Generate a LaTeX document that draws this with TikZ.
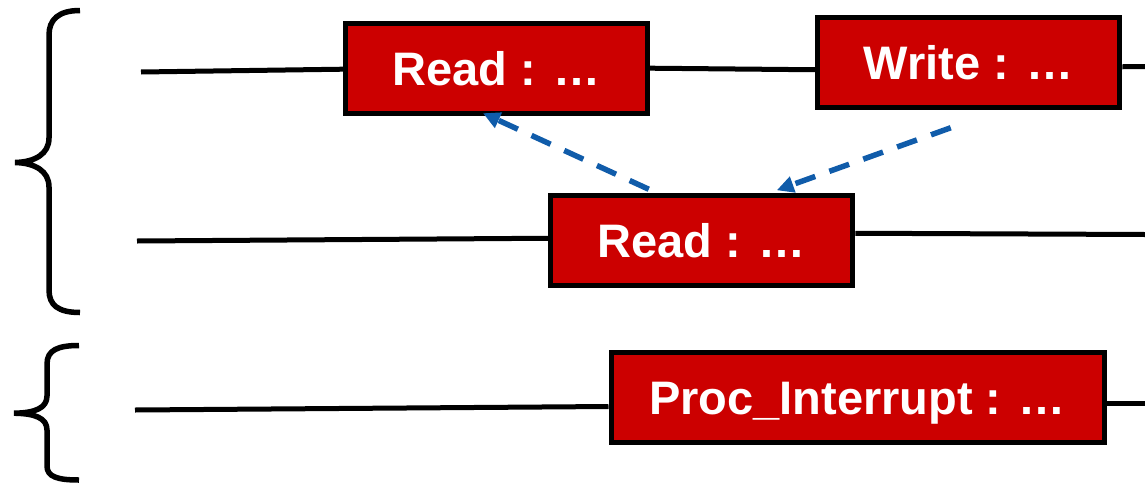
\documentclass[tikz,border=0pt]{standalone}
\usepackage{fontspec}
\setmainfont{Liberation Sans}
\usetikzlibrary{arrows.meta}
\definecolor{boxred}{RGB}{204,0,0}
\definecolor{linkblue}{RGB}{16,92,170}
\begin{document}
\begin{tikzpicture}[x=1pt,y=-1pt,
  task/.style={draw=black, line width=5pt, fill=boxred, text=white,
    font=\fontsize{47}{50}\selectfont\bfseries,
    minimum width=302pt, minimum height=90pt, inner sep=0pt,
    text height=33.7pt, text depth=0pt},
  thread/.style={draw=black, line width=5pt},
  bracket/.style={draw=black, line width=5.5pt},
  dep/.style={draw=linkblue, line width=5.5pt, dash pattern=on 21pt off 15pt,
    -{Triangle[length=17pt,width=16pt]}}]
\useasboundingbox (0,0) rectangle (1145,482);

% free ends of the three timelines
\coordinate (a0) at (141,72);
\coordinate (a1) at (1145,66.7);
\coordinate (b0) at (137,241);
\coordinate (b1) at (1145,234.5);
\coordinate (c0) at (135,410);
\coordinate (c1) at (1145,403.5);

% task boxes
\node[task] (rd1) at (496.5,68.2) {Read : …};
\node[task] (wr) at (968.75,62.75) {Write : …};
\node[task] (rd2) at (701.75,240.75) {Read : …};
\node[task, minimum width=493pt] (irq) at (857.5,397.5) {Proc\_Interrupt : …};

% timelines
\draw[thread] (a0) -- ([yshift=-1pt]rd1.west);
\draw[thread] (rd1.east) -- ([yshift=-7pt]wr.west);
\draw[thread] ([yshift=-4pt]wr.east) -- (a1);
\draw[thread] (b0) -- ([yshift=2.5pt]rd2.west);
\draw[thread] ([yshift=7.5pt]rd2.east) -- (b1);
\draw[thread] (c0) -- ([yshift=-9pt]irq.west);
\draw[thread] ([yshift=-6pt]irq.east) -- (c1);

% dependencies
\coordinate (p0) at ([xshift=-53pt,yshift=4pt]rd2.north);
\coordinate (q0) at ([xshift=-18pt,yshift=-17.5pt]wr.south);
\draw[dep] (p0) -- ([xshift=-13.5pt,yshift=2.5pt]rd1.south);
\draw[dep] (q0) -- ([xshift=75pt,yshift=3pt]rd2.north);

% group braces
\draw[bracket] (80,10.5) .. controls (58,10.5) and (49,20) .. (49,35)
  -- (49,138) .. controls (49,154) and (35,162) .. (15,162.5)
  .. controls (35,163) and (49,171) .. (49,187)
  -- (49,290) .. controls (49,305) and (58,312.5) .. (80,312.5);
\draw[bracket] (79,345.5) .. controls (58,345.5) and (47,350) .. (47,364)
  -- (47,396) .. controls (47,408) and (35,413) .. (14,413.2)
  .. controls (35,413.5) and (47,418) .. (47,430)
  -- (47,466) .. controls (47,477) and (58,480) .. (79,480);
\end{tikzpicture}
\end{document}
